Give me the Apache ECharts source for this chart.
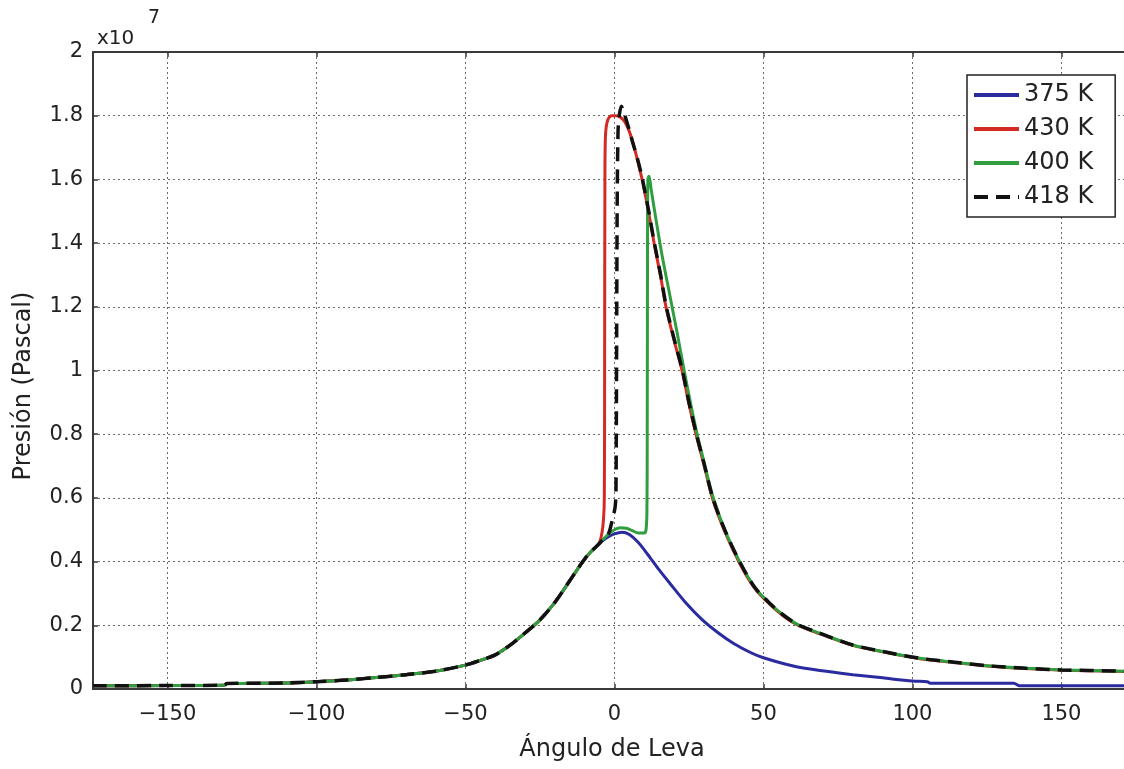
<!DOCTYPE html>
<html>
<head>
<meta charset="utf-8">
<script src="https://cdn.jsdelivr.net/npm/echarts@6/dist/echarts.min.js"></script>
<style>
html,body{margin:0;padding:0;background:#fff;}
#chart{width:1124px;height:769px;}
</style>
</head>
<body>
<div id="chart"></div>
<script>
// Shared compression branch (all four curves coincide here), pressure in units of 1e7 Pa
const angleCompression = [-175,-150,-131,-130,-110,-100,-90,-80,-70,-60,-50,-45,-40,-35,-30,-25,-20,-15,-12,-10,-8,-6];
const pressureCompression = [0.010,0.011,0.012,0.017,0.019,0.023,0.028,0.036,0.045,0.056,0.075,0.090,0.107,0.138,0.176,0.217,0.272,0.340,0.382,0.408,0.430,0.448];

// 375 K
const angle375 = [-4,-2,0,2.5,5,8,10,12,15,18.5,24,29.5,35,40,46,50,60,69,80,90,100,105,106,134,136,171];
const p375 = [0.465,0.478,0.487,0.492,0.485,0.46,0.437,0.412,0.374,0.333,0.27,0.217,0.175,0.143,0.113,0.098,0.072,0.058,0.045,0.035,0.025,0.023,0.018,0.018,0.010,0.010];

// 430 K
const angle430 = [-5,-4.2,-3.7,-3.4,-3.3,-3.2,-3.0,-2.3,-1,0.5,2,3.5,5,6.5,8,9.4,11.5,13.4,15.5,17.4,20,22.8,25,27.5,30,33,37,42,47,52,57,62,69,80,91,102,115,125,138,150,171];
const p430 = [0.46,0.49,0.53,0.6,1.0,1.6,1.74,1.785,1.8,1.8,1.795,1.78,1.75,1.705,1.65,1.595,1.495,1.395,1.295,1.195,1.095,0.995,0.895,0.795,0.705,0.595,0.495,0.395,0.317,0.267,0.227,0.198,0.173,0.137,0.115,0.096,0.082,0.072,0.064,0.059,0.055];

// 400 K
const angle400 = [-4,-2,0,2,4,6,8,10,10.6,10.9,11.0,11.1,11.2,11.6,12.3,14,16,18.5,21,24,27.5,30,33,37,42,47,52,57,62,69,80,91,102,115,125,138,150,171];
const p400 = [0.468,0.486,0.5,0.506,0.505,0.497,0.49,0.49,0.5,0.56,0.8,1.4,1.6,1.61,1.57,1.47,1.36,1.24,1.12,0.97,0.81,0.715,0.605,0.5,0.4,0.32,0.27,0.23,0.2,0.175,0.138,0.116,0.097,0.083,0.073,0.065,0.06,0.056];

// 418 K
const angle418 = [-4,-2,-1,0.2,0.5,0.7,0.9,1.2,1.6,2.3,3.2,4.5,6,8,9.4,11.5,13.4,15.5,17.4,20,22.8,25,27.5,30,33,37,42,47,52,57,62,69,80,91,102,115,125,138,150,171];
const p418 = [0.468,0.488,0.52,0.57,0.62,1.0,1.5,1.75,1.8,1.83,1.81,1.77,1.72,1.655,1.6,1.5,1.4,1.3,1.2,1.1,1.0,0.9,0.8,0.71,0.6,0.5,0.4,0.32,0.27,0.23,0.2,0.175,0.138,0.116,0.097,0.083,0.073,0.065,0.06,0.056];

const seriesNames = ['375 K','430 K','400 K','418 K'];
const xTicks = [-150,-100,-50,0,50,100,150];
const xAxisTitle = 'Ángulo de Leva';
const yAxisTitle = 'Presión (Pascal)';

function pairs(a, p) {
  const out = [];
  for (let i = 0; i < angleCompression.length; i++) out.push([angleCompression[i], pressureCompression[i]]);
  for (let i = 0; i < a.length; i++) out.push([a[i], p[i]]);
  return out;
}

const FONT = 'DejaVu Sans';
const AX = '#3a3a3a';
const GRIDC = '#6a6a6a';

const chart = echarts.init(document.getElementById('chart'));
const baseLine = (name, data, color, extra) => Object.assign({
  name: name, type: 'line', data: data, showSymbol: false, symbol: 'none',
  smooth: 0.3,
  lineStyle: {color: color, width: 3}, itemStyle: {color: color},
  emphasis: {disabled: true}, animation: false
}, extra || {});

chart.setOption({
  animation: false,
  backgroundColor: '#fff',
  grid: {left: 93, top: 52, bottom: 80, right: 0, containLabel: false},
  xAxis: [{
    type: 'value', min: -175, max: 171, position: 'bottom',
    axisLine: {show: true, onZero: false, lineStyle: {color: AX, width: 2}},
    axisTick: {show: true, inside: true, length: 5, customValues: xTicks, lineStyle: {color: AX, width: 1.5}},
    axisLabel: {show: true, customValues: xTicks, margin: 15, fontFamily: FONT, fontSize: 21, color: '#222',
      formatter: v => String(v).replace('-', '\u2212')},
    splitLine: {show: true, lineStyle: {color: GRIDC, width: 1, type: [2, 3]}}
  }, {
    type: 'value', min: -175, max: 171, position: 'top',
    axisLine: {show: true, onZero: false, lineStyle: {color: AX, width: 2}},
    axisTick: {show: true, inside: true, length: 5, customValues: xTicks, lineStyle: {color: AX, width: 1.5}},
    axisLabel: {show: false},
    splitLine: {show: false}
  }],
  yAxis: {
    type: 'value', min: 0, max: 2, interval: 0.2,
    axisLine: {show: true, onZero: false, lineStyle: {color: AX, width: 2}},
    axisTick: {show: true, inside: true, length: 5, lineStyle: {color: AX, width: 1.5}},
    axisLabel: {margin: 10, fontFamily: FONT, fontSize: 21, color: '#222',
      formatter: v => String(Math.round(v * 10) / 10)},
    splitLine: {show: true, lineStyle: {color: GRIDC, width: 1, type: [2, 3]}}
  },
  legend: {
    show: true, orient: 'vertical', left: 967, top: 75,
    data: seriesNames,
    itemWidth: 45, itemHeight: 14, itemGap: 10,
    padding: [8, 22, 8, 5],
    itemStyle: {opacity: 0},
    lineStyle: {width: 4},
    backgroundColor: '#fff', borderColor: '#222', borderWidth: 1.5, borderRadius: 0,
    textStyle: {fontFamily: FONT, fontSize: 24, color: '#222', lineHeight: 24},
    selectedMode: false
  },
  graphic: [
    {type: 'text', left: 97, top: 29, style: {text: 'x10', font: '20px "DejaVu Sans"', fill: '#222'}},
    {type: 'text', left: 148, top: 9, style: {text: '7', font: '19px "DejaVu Sans"', fill: '#222'}},
    {type: 'text', x: 612, y: 750, style: {text: xAxisTitle, font: '24px "DejaVu Sans"', fill: '#222', align: 'center', verticalAlign: 'middle'}},
    {type: 'text', x: 24, y: 386, rotation: Math.PI / 2, style: {text: yAxisTitle, font: '24px "DejaVu Sans"', fill: '#222', align: 'center', verticalAlign: 'middle'}}
  ],
  series: [
    baseLine(seriesNames[0], pairs(angle375, p375), '#2b2ba0'),
    baseLine(seriesNames[1], pairs(angle430, p430), '#d42a24'),
    baseLine(seriesNames[2], pairs(angle400, p400), '#2f9e3e'),
    baseLine(seriesNames[3], pairs(angle418, p418), '#111111', {lineStyle: {color: '#111111', width: 3.5, type: [14, 8]}})
  ]
});
</script>
</body>
</html>
